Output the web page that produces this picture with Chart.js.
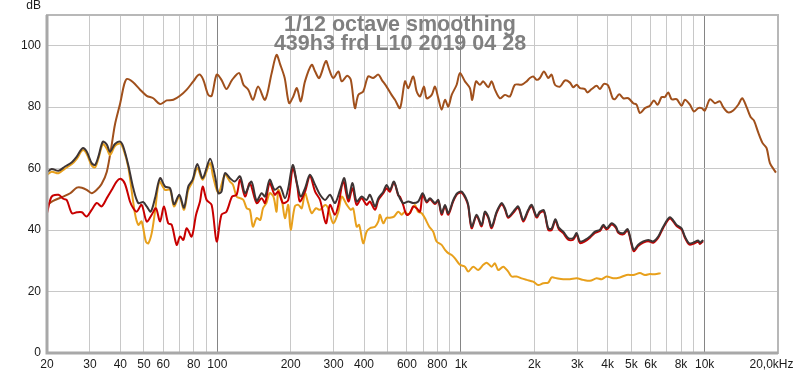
<!DOCTYPE html>
<html>
<head>
<meta charset="utf-8">
<script src="https://cdn.jsdelivr.net/npm/chart.js@4"></script>
<style>
  html, body { margin: 0; padding: 0; background: #fff; }
  canvas { display: block; }
</style>
</head>
<body>
<canvas id="frChart" width="800" height="374"></canvas>
<script>
const brownFreq = [20,21.2,23.3,24.9,26.5,27.8,29.1,30.5,32,33.5,
  35.2,36.9,38,40,41.5,42.6,45,48.2,51.3,54.6,
  58.2,62,66,70.3,74.9,79.7,84.3,87.6,91.8,94.8,
  99.4,104,109,115,123,128,134,140,147,157,
  167,175,181,189,197,205,212,220,229,244,
  252,262,279,288,299,314,324,341,353,367,
  379,397,416,436,458,473,495,519,536,562,
  589,608,637,658,679,705,723,758,782,807,
  833,860,887,916,960,990,1038,1088,1112,1152,
  1196,1234,1294,1336,1378,1445,1515,1588,1665,1773,
  1860,1918,1979,2044,2108,2190,2281,2355,2430,2548,
  2671,2800,2889,2983,3078,3227,3298,3438,3604,3718,
  3862,4022,4193,4285,4462,4634,4858,5093,5258,5426,
  5689,5963,6192,6413,6659,6870,7087,7318,7671,8043,
  8299,8700,9036,9411,9718,10024,10510,11020,11552,11918,
  12496,13100,13734,14262,14866,15438,15926,16588,17294,17958,
  18528,19608];
const brownDb = [48.2,49.5,50.9,52.0,53.8,53.8,53.1,52.0,53.1,55.0,
  59.0,68.0,74.3,81.5,87.5,89.2,88.2,85.7,83.7,82.9,
  81.0,82.2,82.4,83.7,85.7,88.4,90.6,88.9,84.0,83.7,
  90.6,88.9,85.9,88.9,91.1,87.3,85.7,82.4,86.7,82.4,
  91.0,97.0,94.0,89.5,81.3,83.5,86.2,81.9,88.4,93.8,
  91.6,89.5,95.0,92.2,89.5,91.6,88.4,90.2,88.9,79.7,
  84.0,85.1,90.0,89.5,90.6,88.9,86.7,84.0,82.4,79.7,
  88.4,86.2,90.0,85.1,83.5,86.7,82.9,84.0,86.7,82.9,
  79.2,82.4,80.2,84.0,87.3,91.1,88.4,86.2,82.4,88.4,
  87.3,88.4,86.5,88.4,85.7,82.9,84.0,83.5,87.3,87.3,
  88.4,89.5,90.0,88.9,89.5,91.6,89.5,90.6,87.3,86.7,
  88.7,88.0,86.5,87.3,86.2,85.9,84.8,85.9,87.0,85.9,
  87.6,87.0,82.9,82.6,84.2,82.9,82.9,81.3,80.8,78.1,
  79.7,80.5,82.2,80.8,83.3,83.3,84.8,82.6,82.6,80.5,
  82.4,80.8,78.6,79.7,79.7,78.9,82.6,81.3,81.9,80.0,
  78.3,78.9,80.8,82.9,80.0,76.8,75.7,71.8,68.3,66.7,
  61.8,58.7];

const darkFreq = [20,20.9,22.3,23.7,25.3,26.5,28,29.1,30.5,31.5,
  32.5,33.9,35.2,36.3,38,39.9,41.1,43.1,45.2,47.4,
  49.7,51.3,53.3,55.5,58.2,61,64,66.4,69.8,73,
  76,79.2,82.8,87.1,93.4,97.9,101,104,107.5,112.7,
  118,124,130,138,145,152,157,164,172,181,
  189.5,195.5,204,213,220,229,240,252,264,277,
  290,304,319,332,345,359,373,391,410,423,
  444,458,480,495,511,531,553,579,608,637,
  668,696,723,746,782,807,833,860,887,930,
  965,1006,1048,1071,1106,1159,1215,1254,1294,1336,
  1401,1468,1515,1563,1639,1718,1801,1888,1950,2044,
  2108,2190,2281,2355,2440,2520,2628,2755,2889,2983,
  3078,3227,3382,3548,3718,3836,3962,4153,4324,4420,
  4634,4830,5014,5124,5338,5598,5868,6152,6450,6761,
  7202,7671,8043,8299,8642,8977,9411,9560,9864];
const darkDb = [58.8,59.9,59.3,60.7,62.1,63.9,66.7,65.6,61.8,61.2,
  63.9,68.8,67.8,65.5,68.0,68.8,67.2,61.2,53.6,48.8,
  49.1,47.7,46.0,50.4,56.9,54.2,53.6,48.4,51.5,47.3,
  54.2,56.4,61.5,56.9,63.2,57.5,52.0,52.5,58.5,56.9,
  55.8,57.5,52.0,55.8,49.5,52.0,50.9,56.4,53.1,54.2,
  50.4,53.6,61.2,54.7,50.9,53.6,58.0,54.7,51.5,49.8,
  51.5,48.8,53.1,56.9,50.4,55.3,49.3,50.9,49.8,51.5,
  47.7,50.4,52.5,54.7,53.1,55.8,51.5,48.8,49.3,48.8,
  49.3,52.0,49.3,50.4,48.8,49.8,45.5,48.2,45.5,49.8,
  52.0,52.5,50.4,48.2,41.1,45.0,41.7,46.0,44.4,41.1,
  46.0,48.8,47.1,44.4,46.0,47.7,43.3,46.6,48.2,44.5,
  46.0,46.4,40.6,40.5,43.5,40.8,39.5,37.4,37.4,39.0,
  36.3,36.8,37.9,39.5,40.1,41.7,40.6,42.2,41.1,39.5,
  39.0,40.3,35.7,33.6,35.2,36.3,36.8,36.3,37.9,41.1,
  44.2,41.7,40.6,37.9,35.7,35.9,36.6,35.9,36.8];

const redFreq = [20,20.9,22.3,23.3,24.1,25.3,26.5,27.8,29.1,30.5,
  32,33.5,35.2,36.9,38.6,40.1,41.8,43.8,45.2,46.7,
  48.9,51.3,53.8,56,58.2,60.4,62.9,65,68.1,70.3,
  72.5,74.9,78.5,81.8,84.9,87.1,90.4,94.8,99.4,104,
  109,115,120,124,130,136,145,152,157,164,
  172,178,186,195.5,204,213,218,229,240,252,
  264,279,290,304,314,329,345,359,373,391,
  410,423,444,458,480,495,511,531,553,562,
  579,598,617,637,658,679,696,723,746,782,
  807,833,860,887,930,965,1006,1048,1071,1106,
  1159,1215,1254,1294,1336,1401,1468,1515,1563,1639,
  1718,1801,1888,1950,2044,2108,2190,2281,2355,2440,
  2520,2628,2755,2889,2983,3078,3227,3382,3548,3718,
  3836,3962,4153,4324,4420,4634,4830,5014,5124,5338,
  5598,5868,6152,6450,6761,7202,7671,8043,8299,8642,
  8977,9411,9560,9864];
const redDb = [45.5,50.9,51.5,50.2,49.8,45.5,45.8,45.8,44.4,46.6,
  48.8,47.7,50.4,53.1,55.8,56.7,55.0,49.3,47.1,46.0,
  48.2,42.8,45.0,47.1,42.8,47.7,42.2,41.7,35.2,37.9,
  36.8,40.6,37.9,45.0,49.3,54.2,49.8,48.2,36.3,45.0,
  46.0,50.9,51.5,56.4,50.9,55.3,48.8,50.4,48.8,55.3,
  51.5,52.5,48.8,49.8,60.2,54.2,49.3,52.5,57.5,52.5,
  49.8,42.2,48.2,45.0,48.2,55.8,49.3,53.6,48.2,50.4,
  48.2,49.3,46.6,49.8,52.0,53.6,52.5,55.5,51.2,50.9,
  48.2,45.0,45.5,47.7,47.1,46.0,51.5,49.0,50.0,48.5,
  49.5,45.0,47.8,45.0,49.4,51.7,52.2,50.0,47.8,40.6,
  44.6,41.2,45.6,44.0,40.6,45.6,48.4,46.7,44.0,45.6,
  47.3,42.8,46.2,47.8,44.1,45.6,46.0,40.1,40.0,43.1,
  40.3,39.0,36.9,36.9,38.6,35.8,36.3,37.5,39.1,39.7,
  41.3,40.2,41.8,40.7,39.1,38.6,39.9,35.2,33.1,34.8,
  35.9,36.4,35.9,37.5,40.7,43.8,41.3,40.2,37.5,35.3,
  35.5,36.2,35.5,36.4];

const orangeFreq = [20,20.9,22.3,23.7,25.3,26.5,28,29.1,30.5,31.5,
  32.5,33.9,35.2,36.3,38,39.9,41.1,43.1,45.9,47.4,
  48.9,50.9,52.1,53.8,55.5,57.8,61,64,66.4,69.8,
  73,76,79.2,82.8,87.1,93.4,96,101,107.5,112.7,
  116,120,124,128,132,136,140,145,150,154,
  159,164,170,175,178,184,189.5,195.5,200,208,
  215,222,229,236,244,254,264,277,285,299,
  314,324,340,353,361,373,382,397,410,423,
  444,458,465,480,495,511,531,553,571,589,
  608,627,647,666,690,711,741,769,794,833,
  860,887,916,945,990,1038,1071,1123,1177,1234,
  1275,1336,1378,1422,1491,1563,1614,1692,1773,1860,
  1979,2075,2176,2281,2355,2470,2628,2800,2983,3176,
  3382,3604,3780,3962,4217,4490,4784,5093,5426,5689,
  5963,6252,6596];
const orangeDb = [58.0,59.0,58.5,60.0,61.5,63.2,66.0,64.8,61.0,60.4,
  63.2,68.0,66.5,64.4,67.3,68.2,66.5,60.5,45.5,41.7,
  42.8,36.3,35.7,39.0,46.0,55.8,53.1,53.1,47.7,50.9,
  46.6,53.1,55.8,60.2,56.4,61.8,57.5,52.0,58.0,55.8,
  54.7,50.9,50.4,49.8,47.1,46.6,41.1,43.9,43.3,47.1,
  48.8,52.0,50.9,46.0,53.1,49.8,43.9,48.2,40.1,47.7,
  48.2,47.1,52.0,48.8,45.5,47.1,46.6,48.2,47.1,42.2,
  46.0,50.9,48.2,46.6,47.1,41.1,41.7,35.7,39.5,40.6,
  41.1,42.8,45.0,42.2,44.0,44.0,44.4,46.0,45.0,46.0,
  45.0,46.6,48.2,46.0,45.5,43.9,41.1,39.5,36.3,35.2,
  33.6,32.5,31.9,30.8,28.7,28.1,26.5,28.1,27.0,28.7,
  29.4,28.1,29.2,27.0,28.1,26.5,24.9,24.9,24.3,23.8,
  23.2,22.1,22.7,22.9,24.6,24.3,24.0,24.0,24.3,23.8,
  23.5,24.3,24.0,24.9,24.3,24.6,25.4,25.4,26.0,25.4,
  25.7,25.6,26.0];

// axes
const xGrid = [20,30,40,50,60,70,80,90,100,200,300,400,500,600,700,800,900,
  1000,2000,3000,4000,5000,6000,7000,8000,9000,10000,20000];
const xLabels = ['20','30','40','50','60','','80','','100','200','300','400','','600','','800','',
  '1k','2k','3k','4k','5k','6k','','8k','','10k',''];
const lastXLabel = '20,0kHz';
const majorFreqs = [100, 1000, 10000];
const yTicks = [0, 20, 40, 60, 80, 100];
const yUnit = 'dB';
const titleLines = ['1/12 octave smoothing', '439h3 frd L10 2019 04 28'];

const FONT = "'Liberation Sans', Arial, sans-serif";

function pts(freq, db) {
  return freq.map((f, i) => ({ x: f, y: db[i] }));
}

// frame, title and the few labels chart.js can't place the same way
const overlay = {
  id: 'overlay',
  afterDraw(chart) {
    const { ctx, chartArea: a, scales } = chart;
    ctx.save();
    ctx.strokeStyle = '#b8b8b8';
    ctx.lineWidth = 2;
    ctx.strokeRect(a.left, a.top, a.right - a.left, a.bottom - a.top);
    ctx.strokeStyle = '#a8a8a8';
    ctx.lineWidth = 3;
    ctx.beginPath();
    ctx.moveTo(a.left, a.top);
    ctx.lineTo(a.left, a.bottom);
    ctx.lineTo(a.right, a.bottom);
    ctx.stroke();

    ctx.fillStyle = '#808080';
    ctx.font = 'bold 21.5px ' + FONT;
    ctx.textAlign = 'center';
    ctx.textBaseline = 'middle';
    titleLines.forEach((t, i) => ctx.fillText(t, 400, 25.5 + i * 19));

    ctx.fillStyle = '#1a1a1a';
    ctx.font = '12px ' + FONT;
    ctx.textAlign = 'right';
    ctx.textBaseline = 'alphabetic';
    ctx.fillText(yUnit, a.left - 6, 9);
    ctx.textAlign = 'center';
    ctx.textBaseline = 'middle';
    ctx.fillText(lastXLabel, scales.x.getPixelForValue(20000) - 6.5, a.bottom + 4 + 7.2);
    ctx.restore();
  }
};

const line = { borderWidth: 2, pointRadius: 0, fill: false, tension: 0.3 };

new Chart(document.getElementById('frChart'), {
  type: 'line',
  data: {
    datasets: [
      { ...line, data: pts(darkFreq, darkDb), borderColor: '#3e3535', order: 0 },
      { ...line, data: pts(redFreq, redDb), borderColor: '#c80000', order: 1 },
      { ...line, data: pts(orangeFreq, orangeDb), borderColor: '#e8a01c', order: 2 },
      { ...line, data: pts(brownFreq, brownDb), borderColor: '#a0501c', order: 3 }
    ]
  },
  options: {
    responsive: false,
    animation: false,
    layout: { padding: { top: 15, right: 22, left: 0, bottom: 0 } },
    plugins: { legend: { display: false }, tooltip: { enabled: false }, title: { display: false } },
    scales: {
      x: {
        type: 'logarithmic',
        min: 20,
        max: 20000,
        afterBuildTicks: s => { s.ticks = xGrid.map(v => ({ value: v })); },
        afterFit: s => { s.height = 21; },
        ticks: {
          autoSkip: false, maxRotation: 0, minRotation: 0, padding: 4,
          color: '#1a1a1a', font: { family: FONT, size: 12 },
          callback: (v, i) => xLabels[i]
        },
        grid: {
          drawTicks: false,
          color: c => (c.tick && majorFreqs.includes(c.tick.value)) ? '#858585' : '#c8c8c8'
        },
        border: { display: false }
      },
      y: {
        min: 0,
        max: 110,
        afterBuildTicks: s => { s.ticks = yTicks.map(v => ({ value: v })); },
        afterFit: s => { s.width = 47; },
        ticks: { padding: 6, color: '#1a1a1a', font: { family: FONT, size: 12 } },
        grid: { drawTicks: false, color: '#c8c8c8' },
        border: { display: false }
      }
    }
  },
  plugins: [overlay]
});
</script>
</body>
</html>
